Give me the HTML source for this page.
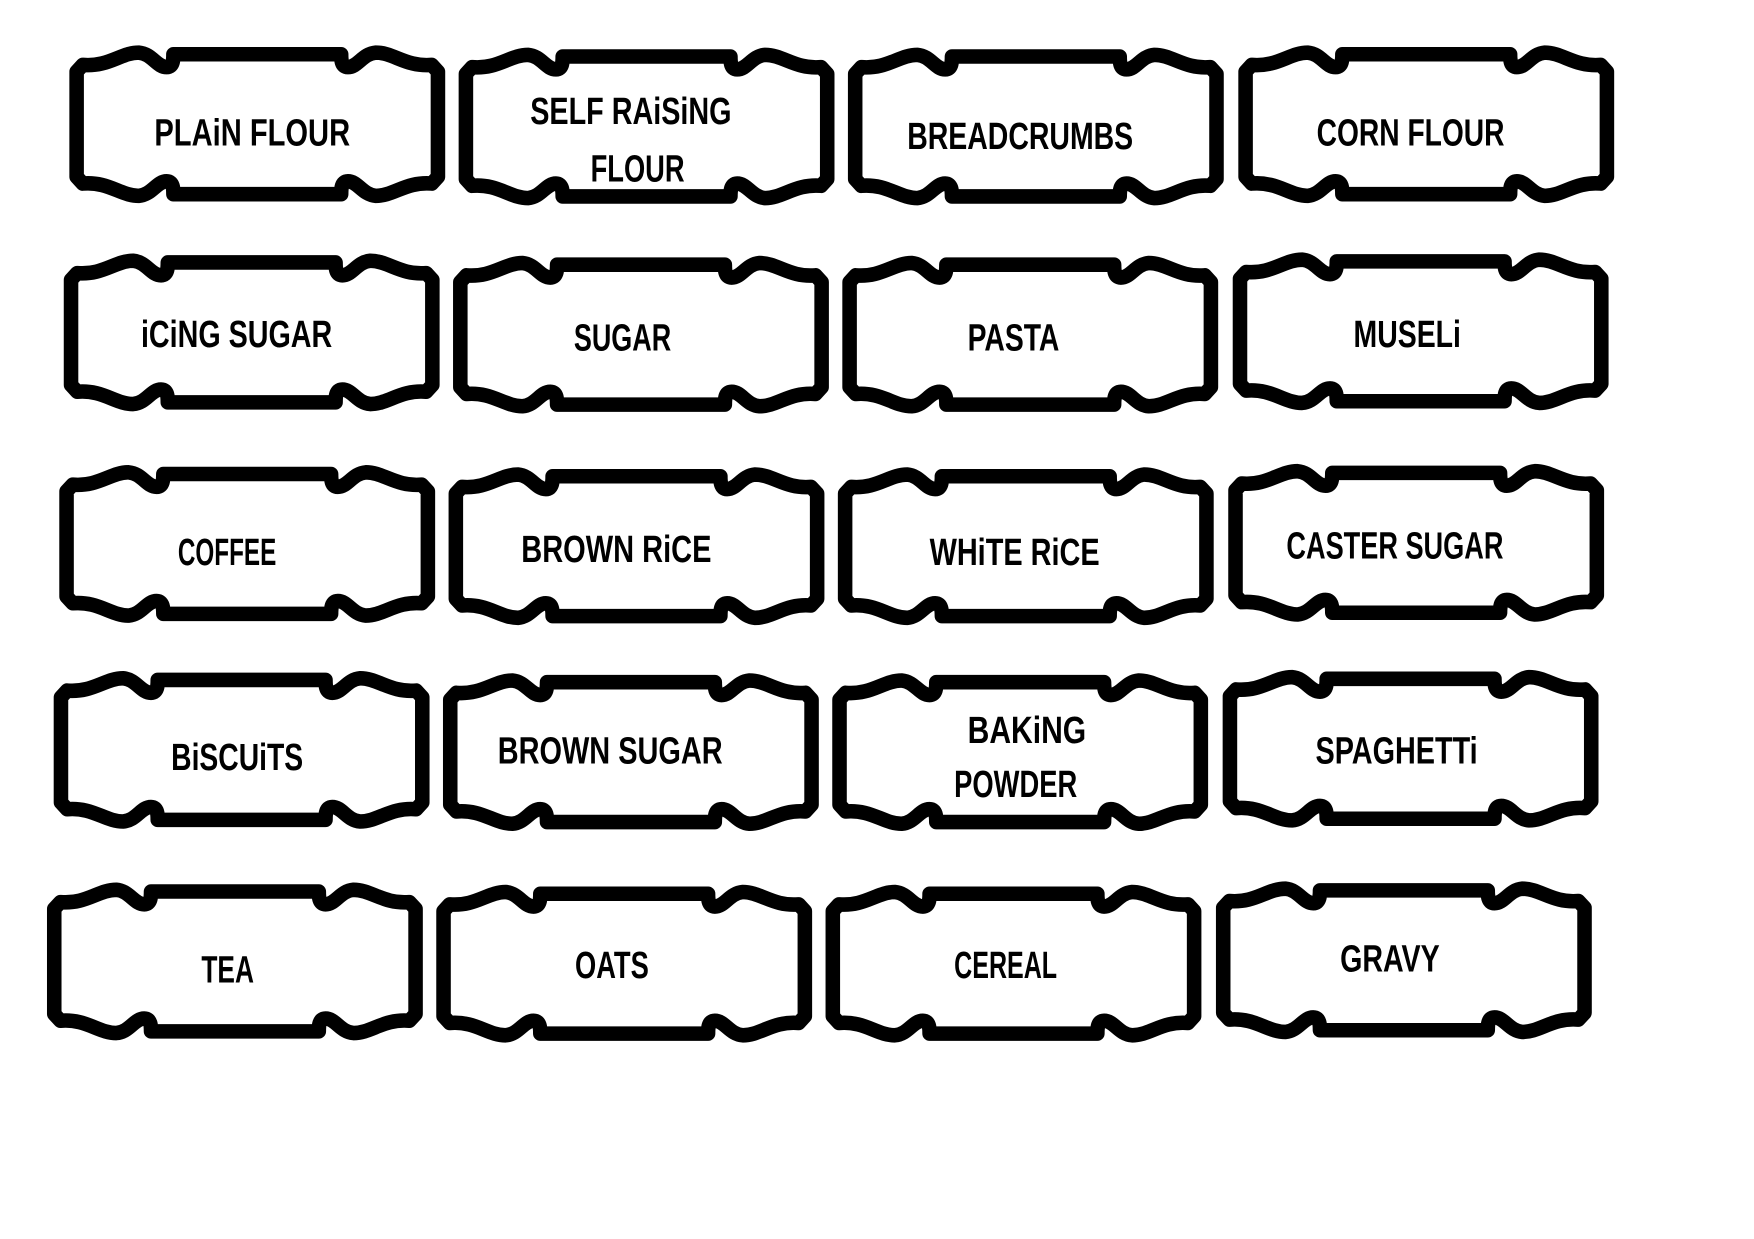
<!DOCTYPE html>
<html><head><meta charset="utf-8"><style>
html,body{margin:0;padding:0;background:#fff;}
svg{display:block;}
text{font-family:"Liberation Sans",sans-serif;font-weight:bold;font-size:34px;fill:#000;}
</style></head><body>
<svg width="1754" height="1239" viewBox="0 0 1568 1107" preserveAspectRatio="none" xmlns="http://www.w3.org/2000/svg">
<defs>
<path id="f" fill="#fff" stroke="#000" stroke-width="13" stroke-linejoin="round" d="M6.5,22 L12,16 C35,18 46,5 62,5 C74,6 78,18 87,18 C93,18 93,11 93,6.5 L243,6.5 C243,11 243,18 249,18 C258,18 262,6 274,5 C290,5 301,18 324,16 L329.5,22 L329.5,116 L324,122 C301,120 290,133 274,133 C262,132 258,120 249,120 C243,120 243,127 243,131.5 L93,131.5 C93,127 93,120 87,120 C78,120 74,132 62,133 C46,133 35,120 12,122 L6.5,116 Z"/>
</defs>
<use href="#f" x="62" y="42"/><use href="#f" x="410" y="44"/><use href="#f" x="758" y="44"/><use href="#f" x="1107" y="42"/>
<use href="#f" x="57" y="228"/><use href="#f" x="405" y="230"/><use href="#f" x="753" y="230"/><use href="#f" x="1102" y="227"/>
<use href="#f" x="53" y="417"/><use href="#f" x="401" y="419"/><use href="#f" x="749" y="419"/><use href="#f" x="1098" y="416"/>
<use href="#f" x="48" y="601"/><use href="#f" x="396" y="603"/><use href="#f" x="744" y="603"/><use href="#f" x="1093" y="600"/>
<use href="#f" x="42" y="790"/><use href="#f" x="390" y="792"/><use href="#f" x="738" y="792"/><use href="#f" x="1087" y="789"/>

<g>
<text x="138" y="130" textLength="175" lengthAdjust="spacingAndGlyphs">PLAiN FLOUR</text>
<text x="474" y="111" textLength="180" lengthAdjust="spacingAndGlyphs">SELF RAiSiNG</text>
<text x="528" y="162" textLength="84" lengthAdjust="spacingAndGlyphs">FLOUR</text>
<text x="811" y="133" textLength="202" lengthAdjust="spacingAndGlyphs">BREADCRUMBS</text>
<text x="1177" y="130" textLength="168" lengthAdjust="spacingAndGlyphs">CORN FLOUR</text>

<text x="126" y="310" textLength="171" lengthAdjust="spacingAndGlyphs">iCiNG SUGAR</text>
<text x="513" y="313" textLength="87" lengthAdjust="spacingAndGlyphs">SUGAR</text>
<text x="865" y="313" textLength="82" lengthAdjust="spacingAndGlyphs">PASTA</text>
<text x="1210" y="310" textLength="96" lengthAdjust="spacingAndGlyphs">MUSELi</text>

<text x="159" y="505" textLength="88" lengthAdjust="spacingAndGlyphs">COFFEE</text>
<text x="466" y="502" textLength="170" lengthAdjust="spacingAndGlyphs">BROWN RiCE</text>
<text x="831" y="505" textLength="152" lengthAdjust="spacingAndGlyphs">WHiTE RiCE</text>
<text x="1150" y="499" textLength="194" lengthAdjust="spacingAndGlyphs">CASTER SUGAR</text>

<text x="153" y="688" textLength="118" lengthAdjust="spacingAndGlyphs">BiSCUiTS</text>
<text x="445" y="682" textLength="201" lengthAdjust="spacingAndGlyphs">BROWN SUGAR</text>
<text x="865" y="664" textLength="106" lengthAdjust="spacingAndGlyphs">BAKiNG</text>
<text x="853" y="712" textLength="110" lengthAdjust="spacingAndGlyphs">POWDER</text>
<text x="1176" y="682" textLength="145" lengthAdjust="spacingAndGlyphs">SPAGHETTi</text>

<text x="180" y="878" textLength="47" lengthAdjust="spacingAndGlyphs">TEA</text>
<text x="514" y="874" textLength="66" lengthAdjust="spacingAndGlyphs">OATS</text>
<text x="853" y="874" textLength="92" lengthAdjust="spacingAndGlyphs">CEREAL</text>
<text x="1198" y="868" textLength="89" lengthAdjust="spacingAndGlyphs">GRAVY</text>
</g>
</svg>
</body></html>
